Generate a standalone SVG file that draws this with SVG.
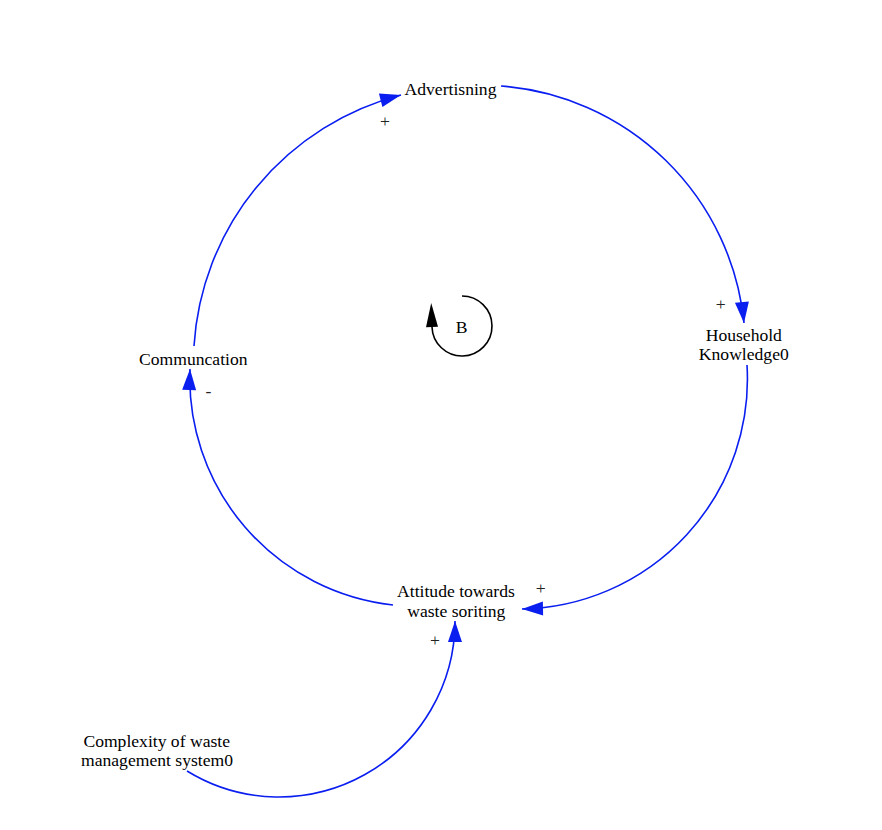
<svg xmlns="http://www.w3.org/2000/svg" width="882" height="830" viewBox="0 0 882 830">
<style>
text{font-family:"Liberation Serif","Times New Roman",serif;font-size:17.6px;fill:#000;text-anchor:middle}
.sign{fill:#222}
.link{fill:none;stroke:#0a1ef0;stroke-width:1.6;marker-end:url(#ah)}
.loop{fill:none;stroke:#000;stroke-width:1.6;marker-end:url(#bh)}
</style>
<defs>
<marker id="ah" markerUnits="userSpaceOnUse" viewBox="-22 -8 23 16" refX="0" refY="0" markerWidth="23" markerHeight="16" orient="auto">
<path d="M0,0 L-21,-7 L-21,7 Z" fill="#0a1ef0"/>
</marker>
<marker id="bh" markerUnits="userSpaceOnUse" viewBox="-1 -7 26 14" refX="0" refY="0" markerWidth="26" markerHeight="14" orient="auto">
<path d="M24,0 L0,-6 L0,6 Z" fill="#000"/>
</marker>
</defs>
<rect width="882" height="830" fill="#fff"/>
<g id="connectors">
<path class="link" d="M501,86 A264 264 0 0 1 744,323"/>
<path class="link" d="M747,365 A230 230 0 0 1 522,609"/>
<path class="link" d="M393,605 A228 228 0 0 1 190,369"/>
<path class="link" d="M194,346 A277 277 0 0 1 401,95"/>
<path class="link" d="M187,771 A176 176 0 0 0 455,621"/>
</g>
<g id="loop-B">
<path class="loop" d="M462,296 A30 30 0 1 1 432,327"/>
<text x="461.5" y="333">B</text>
</g>
<g id="node-advertisning"><text x="450.5" y="95">Advertisning</text></g>
<g id="node-household"><text x="743.8" y="341">Household</text><text x="743.8" y="360">Knowledge0</text></g>
<g id="node-communcation"><text x="193.3" y="364.5">Communcation</text></g>
<g id="node-attitude"><text x="456" y="596.5">Attitude towards</text><text x="456.3" y="616.5">waste soriting</text></g>
<g id="node-complexity"><text x="156.7" y="746.5">Complexity of waste</text><text x="157" y="765.5">management system0</text></g>
<g id="polarities">
<text class="sign" x="385" y="126.5">+</text>
<text class="sign" x="720.7" y="310">+</text>
<text class="sign" x="208.5" y="397">-</text>
<text class="sign" x="540.7" y="594">+</text>
<text class="sign" x="435" y="646">+</text>
</g>
</svg>
